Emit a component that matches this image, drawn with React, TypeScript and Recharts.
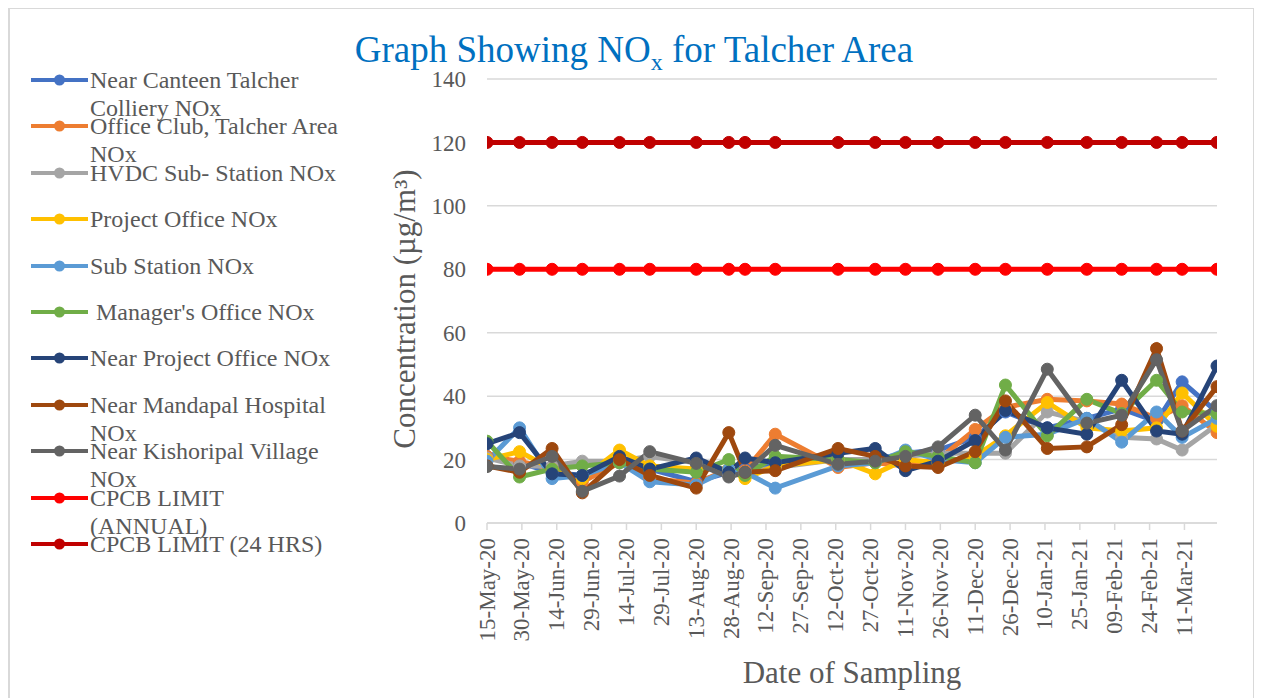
import { CartesianGrid, Legend, Line, LineChart, XAxis, YAxis } from "recharts";

const FONT = "'Liberation Serif', 'Times New Roman', Times, serif";
const TEXT = "#595959";
const GRID = "#d9d9d9";

// sampling dates (x positions come from these through the time scale)
const sampleDates = [
  "2020-05-15", "2020-05-29", "2020-06-12", "2020-06-25", "2020-07-11", "2020-07-24",
  "2020-08-13", "2020-08-27", "2020-09-03", "2020-09-16", "2020-10-13", "2020-10-29",
  "2020-11-11", "2020-11-25", "2020-12-11", "2020-12-24", "2021-01-11", "2021-01-28",
  "2021-02-12", "2021-02-27", "2021-03-10", "2021-03-25",
];

// axis ticks every 15 days
const tickDates = [
  "2020-05-15", "2020-05-30", "2020-06-14", "2020-06-29", "2020-07-14", "2020-07-29",
  "2020-08-13", "2020-08-28", "2020-09-12", "2020-09-27", "2020-10-12", "2020-10-27",
  "2020-11-11", "2020-11-26", "2020-12-11", "2020-12-26", "2021-01-10", "2021-01-25",
  "2021-02-09", "2021-02-24", "2021-03-11",
];
const axisEnd = "2021-03-25";
const yTicks = [0, 20, 40, 60, 80, 100, 120, 140];
const MONTHS = ["Jan", "Feb", "Mar", "Apr", "May", "Jun", "Jul", "Aug", "Sep", "Oct", "Nov", "Dec"];

const nearCanteen = [21, 19, 16, 15, 20, 17, 13, 16, 17, 19, 20, 20, 22, 23, 27, 35, 30, 33, 36, 32, 44.5, 35];
const officeClub = [21, 19.5, 17, 13, 19, 14, 12.5, 17, 16.5, 28, 17.5, 19, 18, 20, 29.5, 36.5, 39, 38.5, 37.5, 33, 37, 28.5];
const hvdcSubStation = [20.5, 18, 18, 19.5, 19.5, 21, 19, 15, 16, 17.5, 20, 20, 21, 22, 22, 22, 35, 32, 27, 26.5, 23, 31];
const projectOffice = [20, 22.5, 17, 14, 23, 18, 17, 17, 14, 18, 20, 15.5, 20, 19, 21, 27.5, 38, 30, 29, 30, 41, 30.5];
const subStation = [19.5, 30, 14, 15, 19, 13, 12, 17, 16, 11, 18, 19, 23, 20, 19, 27, 28, 33, 25.5, 35, 27, 33];
const managersOffice = [25.8, 14.5, 17, 18, 19, 17, 16, 20, 15, 21, 20, 19, 22.5, 21, 19, 43.5, 27.5, 39, 34.5, 45, 35, 34.5];
const nearProjectOffice = [25, 28.5, 15.5, 15, 21, 17, 20.5, 16, 20.5, 19, 22, 23.5, 16.5, 19.5, 26, 35.5, 30, 28, 45, 29, 28, 49.5];
const nearMandapal = [18, 16, 23.5, 9.5, 20, 15, 11, 28.5, 16, 16.5, 23.5, 21, 18, 17.5, 22.5, 38.5, 23.5, 24, 31, 55, 29, 43];
const nearKishoripal = [17.8, 17, 21, 10, 14.8, 22.5, 18.8, 14.5, 16, 24.5, 18.5, 19.5, 21, 24, 34, 23, 48.5, 31.5, 34, 51.5, 29, 37];
const cpcbAnnual = [80, 80, 80, 80, 80, 80, 80, 80, 80, 80, 80, 80, 80, 80, 80, 80, 80, 80, 80, 80, 80, 80];
const cpcb24h = [120, 120, 120, 120, 120, 120, 120, 120, 120, 120, 120, 120, 120, 120, 120, 120, 120, 120, 120, 120, 120, 120];

const SERIES = [
  { key: "canteen", name: "Near Canteen Talcher Colliery NOx", color: "#4472C4", values: nearCanteen },
  { key: "club", name: "Office Club, Talcher Area NOx", color: "#ED7D31", values: officeClub },
  { key: "hvdc", name: "HVDC Sub- Station NOx", color: "#A5A5A5", values: hvdcSubStation },
  { key: "project", name: "Project Office NOx", color: "#FFC000", values: projectOffice },
  { key: "sub", name: "Sub Station NOx", color: "#5B9BD5", values: subStation },
  { key: "manager", name: " Manager's Office NOx", color: "#70AD47", values: managersOffice },
  { key: "nearProject", name: "Near Project Office NOx", color: "#264478", values: nearProjectOffice },
  { key: "mandapal", name: "Near Mandapal Hospital NOx", color: "#9E480E", values: nearMandapal },
  { key: "kishoripal", name: "Near Kishoripal Village NOx", color: "#636363", values: nearKishoripal },
  { key: "annual", name: "CPCB LIMIT (ANNUAL)", color: "#FF0000", values: cpcbAnnual },
  { key: "daily", name: "CPCB LIMIT (24 HRS)", color: "#C00000", values: cpcb24h },
];
const seriesOrder = SERIES.map((s) => s.key);

const rows = sampleDates.map((d, i) => {
  const row: Record<string, number> = { t: Date.parse(d) };
  SERIES.forEach((s) => {
    row[s.key] = s.values[i];
  });
  return row;
});

function fmtDate(t: number) {
  const d = new Date(t);
  return `${String(d.getUTCDate()).padStart(2, "0")}-${MONTHS[d.getUTCMonth()]}-${String(d.getUTCFullYear()).slice(2)}`;
}

function DateTick({ x, y, payload }: any) {
  return (
    <text
      x={x}
      y={y}
      transform={`rotate(-90 ${x} ${y})`}
      textAnchor="end"
      dominantBaseline="central"
      fill={TEXT}
      fontSize={23}
      fontFamily={FONT}
    >
      {fmtDate(payload.value)}
    </text>
  );
}

// legend keeps the series order (Recharts sorts by name otherwise)
function LegendBox({ payload }: any) {
  const items = [...(payload ?? [])].sort(
    (a: any, b: any) => seriesOrder.indexOf(a.dataKey) - seriesOrder.indexOf(b.dataKey)
  );
  return (
    <div style={{ fontFamily: FONT }}>
      {items.map((e: any) => (
        <div key={e.dataKey} style={{ height: 46.4, display: "flex", alignItems: "flex-start" }}>
          <svg width={57} height={28} style={{ flex: "none" }}>
            <line x1={0} x2={57} y1={14} y2={14} stroke={e.color} strokeWidth={4} />
            <circle cx={28.5} cy={14} r={5.5} fill={e.color} />
          </svg>
          <span
            style={{
              marginLeft: 2,
              width: 256,
              fontSize: 24,
              lineHeight: "28px",
              color: TEXT,
              whiteSpace: "pre-wrap",
            }}
          >
            {e.value}
          </span>
        </div>
      ))}
    </div>
  );
}

export default function App() {
  return (
    <div style={{ position: "relative", width: 1247, height: 700, fontFamily: FONT }}>
      <div
        style={{
          position: "absolute",
          left: 0,
          top: -1,
          width: 1247,
          height: 702,
          border: `2px solid ${GRID}`,
          boxSizing: "border-box",
        }}
      />
      <LineChart
        width={1247}
        height={700}
        data={rows}
        margin={{ top: 71, right: 38, left: 419, bottom: 125 }}
      >
        <CartesianGrid horizontal vertical={false} stroke={GRID} strokeWidth={1.5} />
        <XAxis
          dataKey="t"
          type="number"
          scale="time"
          domain={[Date.parse(tickDates[0]), Date.parse(axisEnd)]}
          ticks={tickDates.map((d) => Date.parse(d))}
          interval={0}
          height={60}
          tick={<DateTick />}
          tickSize={7}
          tickMargin={8}
          axisLine={{ stroke: GRID, strokeWidth: 1.5 }}
          tickLine={{ stroke: GRID, strokeWidth: 1.5 }}
          allowDataOverflow
        />
        <YAxis
          domain={[0, 140]}
          ticks={yTicks}
          interval={0}
          width={60}
          axisLine={false}
          tickLine={false}
          tickSize={0}
          tickMargin={21}
          tick={{ fill: TEXT, fontSize: 23, fontFamily: FONT }}
        />
        <Legend
          layout="vertical"
          align="center"
          verticalAlign="middle"
          wrapperStyle={{ left: 23, top: 58, width: 330 }}
          content={LegendBox}
        />
        {SERIES.map((s) => (
          <Line
            key={s.key}
            type="linear"
            dataKey={s.key}
            name={s.name}
            stroke={s.color}
            strokeWidth={5}
            dot={{ r: 6, fill: s.color, stroke: s.color, strokeWidth: 1 }}
            activeDot={false}
            isAnimationActive={false}
          />
        ))}
      </LineChart>
      <div
        style={{
          position: "absolute",
          left: 626,
          top: 23,
          transform: "translateX(-50%)",
          whiteSpace: "nowrap",
          fontSize: 37,
          lineHeight: 1,
          color: "#0070C0",
        }}
      >
        Graph Showing NO
        <span style={{ fontSize: 24, position: "relative", top: 8 }}>x</span> for Talcher Area
      </div>
      <div
        style={{
          position: "absolute",
          left: 396,
          top: 301,
          transform: "translate(-50%, -50%) rotate(-90deg)",
          whiteSpace: "nowrap",
          fontSize: 31,
          lineHeight: 1,
          color: TEXT,
        }}
      >
        Concentration (µg/m³)
      </div>
      <div
        style={{
          position: "absolute",
          left: 844,
          top: 649,
          transform: "translateX(-50%)",
          whiteSpace: "nowrap",
          fontSize: 31,
          lineHeight: 1,
          color: TEXT,
        }}
      >
        Date of Sampling
      </div>
    </div>
  );
}
